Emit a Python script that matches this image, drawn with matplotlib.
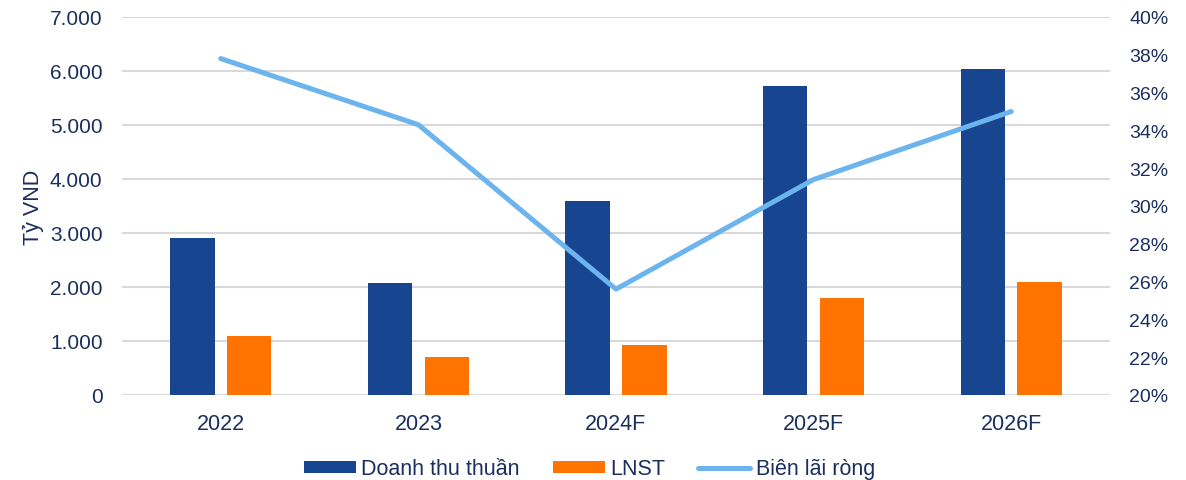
import matplotlib.pyplot as plt
import numpy as np
from matplotlib.ticker import FuncFormatter

years = ["2022", "2023", "2024F", "2025F", "2026F"]
doanh_thu = [2900, 2080, 3600, 5730, 6030]
lnst = [1100, 710, 930, 1800, 2100]
bien_lai = [37.8, 34.3, 25.6, 31.4, 35.0]

BLUE = "#17458F"
ORANGE = "#FF7300"
LIGHT = "#6CB4EE"
TEXT = "#1B2F5E"

plt.rcParams["font.family"] = ["Liberation Sans", "DejaVu Sans"]

fig = plt.figure(figsize=(11.86, 4.81), dpi=100)
ax = fig.add_axes([122 / 1186, 85 / 481, 988 / 1186, 378 / 481])
ax2 = ax.twinx()

x = np.arange(len(years))
w = 0.225
b1 = ax.bar(x - 0.144, doanh_thu, w, color=BLUE, label="Doanh thu thuần", zorder=2)
b2 = ax.bar(x + 0.144, lnst, w, color=ORANGE, label="LNST", zorder=2)
(ln,) = ax2.plot(x, bien_lai, color=LIGHT, lw=3.6, solid_capstyle="round",
                 label="Biên lãi ròng", zorder=3)

ax.set_xlim(-0.5, 4.5)
ax.set_ylim(0, 7000)
ax.set_yticks(range(0, 7001, 1000))
ax.yaxis.set_major_formatter(FuncFormatter(lambda v, p: f"{int(v):,}".replace(",", ".")))
ax.grid(axis="y", color="#D9D9D9", lw=1.5, zorder=0)
ax.set_xticks(x)
ax.set_xticklabels(years)
ax.set_ylabel("Tỷ VND", color=TEXT, fontsize=15.5, labelpad=4)

ax2.set_ylim(20, 40)
ax2.set_yticks(range(20, 41, 2))
ax2.yaxis.set_major_formatter(FuncFormatter(lambda v, p: f"{int(v)}%"))

for a in (ax, ax2):
    for s in a.spines.values():
        s.set_visible(False)
    a.tick_params(length=0, labelsize=14, colors=TEXT)
ax.tick_params(axis="y", pad=14, labelsize=15)
ax.tick_params(axis="x", pad=13, labelsize=15.5)
ax2.tick_params(axis="y", pad=14)

ax.set_zorder(ax2.get_zorder() - 1)
ax2.patch.set_visible(False)

fig.legend([b1, b2, ln], ["Doanh thu thuần", "LNST", "Biên lãi ròng"],
           loc="center", bbox_to_anchor=(0.497, 0.023), ncol=3, frameon=False,
           fontsize=15.5, handlelength=2.4, handleheight=0.5, columnspacing=1.55,
           handletextpad=0.25, labelcolor=TEXT)

fig.savefig("out.png", dpi=100)
